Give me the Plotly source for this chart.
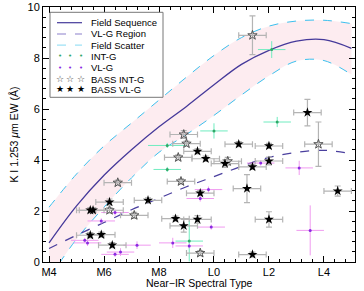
import plotly.graph_objects as go

# ---------------- data ----------------
# Spectral type numeric: M4=4 ... M9=9, L0=10 ... L5=15
spt_grid = [4, 5, 6, 7, 8, 9, 10, 11, 12, 13, 14, 15]
field_seq = [0.75, 2.2, 3.4, 4.4, 5.3, 6.1, 6.95, 7.75, 8.3, 8.66, 8.72, 8.38]
field_upper = [2.15, 3.45, 4.55, 5.45, 6.35, 7.25, 8.1, 8.8, 9.25, 9.45, 9.48, 9.35]
field_lower = [-0.65, 0.9, 2.15, 3.3, 4.3, 5.0, 5.75, 6.55, 7.3, 7.88, 7.9, 7.35]
vlg_region = [0.53, 1.05, 1.55, 2.05, 2.5, 2.95, 3.35, 3.75, 4.1, 4.3, 4.38, 4.25]

tick_vals = [4, 6, 8, 10, 12, 14]
tick_text = ["M4", "M6", "M8", "L0", "L2", "L4"]

intg_spt = [8.3, 8.3, 9.1, 10.0, 12.1, 12.3]
intg_ew = [4.57, 3.63, 0.82, 5.14, 8.33, 5.49]
intg_xerr = [0.7, 0.5, 0.5, 0.5, 0.5, 0.5]
intg_yerr = [0.1, 0.1, 0.8, 0.3, 0.33, 0.2]

vlg_spt = [5.3, 5.4, 5.9, 6.4, 6.4, 6.6, 7.2, 8.5, 9.1, 9.9, 9.5, 9.8, 11.7, 13.1, 13.5]
vlg_ew = [0.85, 0.75, 1.61, 1.94, 0.3, 0.39, 0.66, 0.75, 0.63, 1.37, 2.49, 2.84, 3.88, 3.69, 1.24]
vlg_xerr = [0.5] * 15
vlg_yerr = [0.1, 0.12, 0.1, 0.12, 0.1, 0.15, 0.15, 0.2, 0.1, 0.1, 0.12, 0.12, 0.1, 0.28, 0.98]

bass_intg_spt = [6.5, 6.2, 7.1, 8.9, 9.0, 8.7, 8.8, 9.5, 10.5, 11.4, 13.8]
bass_intg_ew = [3.11, 2.03, 1.83, 5.0, 4.64, 4.1, 3.16, 0.35, 3.95, 8.89, 4.62]
bass_intg_xerr = [0.5] * 11
bass_intg_yerr = [0.1, 0.1, 0.12, 0.15, 0.1, 0.1, 0.1, 0.1, 0.15, 0.76, 0.87]

bass_vlg_spt = [5.5, 5.6, 5.5, 5.9, 6.2, 6.3, 7.6, 8.6, 8.9, 9.4, 9.4, 9.7, 9.5,
                10.4, 10.9, 11.4, 12.0, 12.0, 11.2, 12.0, 11.4, 13.4, 14.5]
bass_vlg_ew = [2.03, 2.03, 1.05, 1.07, 2.35, 0.66, 2.42, 1.7, 1.42, 1.67, 4.34, 4.05, 2.7,
               3.86, 4.62, 3.73, 3.96, 4.55, 2.88, 1.67, 0.29, 5.86, 2.78]
bass_vlg_xerr = [0.5] * 23
bass_vlg_yerr = [0.1, 0.1, 0.1, 0.1, 0.12, 0.1, 0.1, 0.1, 0.25, 0.15, 0.1, 0.1, 0.1,
                 0.15, 0.1, 0.1, 0.15, 0.1, 0.55, 0.3, 0.1, 0.52, 0.2]

legend_labels = ["Field Sequence", "VL-G Region", "Field Scatter", "INT-G", "VL-G",
                 "BASS INT-G", "BASS VL-G"]
x_title = "Near\u2212IR Spectral Type"
y_title = "K I 1.253 <i>\u03bc</i>m EW (\u00c5)"

# ---------------- styles ----------------
C_FIELD = "#45399a"
C_VLGREG = "#4a3f9e"
C_SCAT = "#3cc0ee"
C_FILL = "rgba(252,220,228,0.55)"
C_INTG = "#2fa866"
C_INTG_ERR = "#70ecc0"
C_VLG = "#8a2be2"
C_VLG_ERR = "#f09af0"
C_STAR_ERR = "#b4b4b4"
FONT = "Liberation Sans, Arial, Helvetica, sans-serif"

fig = go.Figure()

# scatter band fill
fig.add_trace(go.Scatter(x=spt_grid, y=field_lower, mode="lines", line=dict(color=C_SCAT, width=1, dash="dash", shape="spline"),
                         showlegend=False, hoverinfo="skip"))
fig.add_trace(go.Scatter(x=spt_grid, y=field_upper, mode="lines", line=dict(color=C_SCAT, width=1, dash="dash", shape="spline"),
                         fill="tonexty", fillcolor=C_FILL, showlegend=False, hoverinfo="skip"))
fig.add_trace(go.Scatter(x=spt_grid, y=field_seq, mode="lines", line=dict(color=C_FIELD, width=1.3, shape="spline"),
                         showlegend=False))
fig.add_trace(go.Scatter(x=spt_grid, y=vlg_region, mode="lines", line=dict(color=C_VLGREG, width=1.3, dash="dash", shape="spline"),
                         showlegend=False))

fig.add_trace(go.Scatter(x=intg_spt, y=intg_ew, mode="markers",
                         marker=dict(color=C_INTG, size=3),
                         error_x=dict(type="data", array=intg_xerr, color=C_INTG_ERR, thickness=1, width=0),
                         error_y=dict(type="data", array=intg_yerr, color=C_INTG_ERR, thickness=1, width=0),
                         showlegend=False))
fig.add_trace(go.Scatter(x=vlg_spt, y=vlg_ew, mode="markers",
                         marker=dict(color=C_VLG, size=3),
                         error_x=dict(type="data", array=vlg_xerr, color=C_VLG_ERR, thickness=1, width=0),
                         error_y=dict(type="data", array=vlg_yerr, color=C_VLG_ERR, thickness=1, width=0),
                         showlegend=False))
fig.add_trace(go.Scatter(x=bass_intg_spt, y=bass_intg_ew, mode="markers",
                         marker=dict(symbol="star-open", color="#555555", size=7, line=dict(width=1, color="#555555")),
                         error_x=dict(type="data", array=bass_intg_xerr, color=C_STAR_ERR, thickness=1.2, width=3),
                         error_y=dict(type="data", array=bass_intg_yerr, color=C_STAR_ERR, thickness=1.2, width=3),
                         showlegend=False))
fig.add_trace(go.Scatter(x=bass_vlg_spt, y=bass_vlg_ew, mode="markers",
                         marker=dict(symbol="star", color="black", size=7.5, line=dict(width=0)),
                         error_x=dict(type="data", array=bass_vlg_xerr, color=C_STAR_ERR, thickness=1.2, width=3),
                         error_y=dict(type="data", array=bass_vlg_yerr, color=C_STAR_ERR, thickness=1.2, width=3),
                         showlegend=False))

# ---------------- layout ----------------
L, R, T, B = 43, 9, 7, 29
W, H = 364, 291
pw, ph = W - L - R, H - T - B


def px(xp):
    return (xp - L) / pw


def py(yp):
    return (H - B - yp) / ph


axis_common = dict(showgrid=False, zeroline=False, showline=True, linecolor="black", linewidth=1,
                   mirror="allticks", ticks="inside", ticklen=6, tickwidth=1, tickcolor="black",
                   tickfont=dict(family=FONT, size=11, color="black"))

fig.update_layout(
    width=W, height=H, margin=dict(l=L, r=R, t=T, b=B, autoexpand=False),
    paper_bgcolor="white", plot_bgcolor="white", showlegend=False,
    xaxis=dict(range=[3.78, 15.13], tickvals=tick_vals, ticktext=tick_text, automargin=False,
               minor=dict(dtick=0.4, tick0=4, ticks="inside", ticklen=3, tickcolor="black", showgrid=False),
               **axis_common),
    yaxis=dict(range=[0, 10], tickvals=[0, 2, 4, 6, 8, 10], automargin=False,
               minor=dict(dtick=0.4, tick0=0, ticks="inside", ticklen=3, tickcolor="black", showgrid=False),
               title=dict(text=y_title, font=dict(family=FONT, size=10.5, color="black"), standoff=6),
               **axis_common),
)

fig.add_annotation(x=px(199), y=py(282.5), xref="paper", yref="paper", text=x_title, showarrow=False,
                   xanchor="center", yanchor="middle", font=dict(family=FONT, size=10.5, color="black"))

# ---------------- legend (drawn as box + text) ----------------
fig.add_shape(type="rect", xref="paper", yref="paper", x0=px(50), x1=px(163), y0=py(97.3), y1=py(12.3),
              line=dict(color="#777777", width=1), fillcolor="white", layer="above")
row_y = [22.7, 34, 45.2, 56.5, 67.7, 79, 89.5]
for lab, yy in zip(legend_labels, row_y):
    fig.add_annotation(x=px(89), y=py(yy), xref="paper", yref="paper", text=lab, showarrow=False,
                       xanchor="left", yanchor="middle", font=dict(family=FONT, size=9.5, color="black"))
line_keys = [(C_FIELD, "solid"), ("#8c80cc", "dash"), ("#9ee2f6", "dash")]
for (col, dsh), yy in zip(line_keys, row_y[:3]):
    fig.add_shape(type="line", xref="paper", yref="paper", x0=px(57), x1=px(82), y0=py(yy), y1=py(yy),
                  line=dict(color=col, width=1.2, dash=dsh), layer="above")
sym_keys = [("\u2022", C_INTG, 7), ("\u2022", C_VLG, 7), ("\u2606", "#333333", 9), ("\u2605", "black", 9)]
for (ch, col, sz), yy in zip(sym_keys, row_y[3:]):
    for xx in (59.5, 70, 80.5):
        fig.add_annotation(x=px(xx), y=py(yy), xref="paper", yref="paper", text=ch, showarrow=False,
                           xanchor="center", yanchor="middle", font=dict(family="DejaVu Sans", size=sz, color=col))

fig.write_html("out.html", config={"displayModeBar": False},
               post_script="document.body.style.margin='0px';document.body.style.overflow='hidden';")
